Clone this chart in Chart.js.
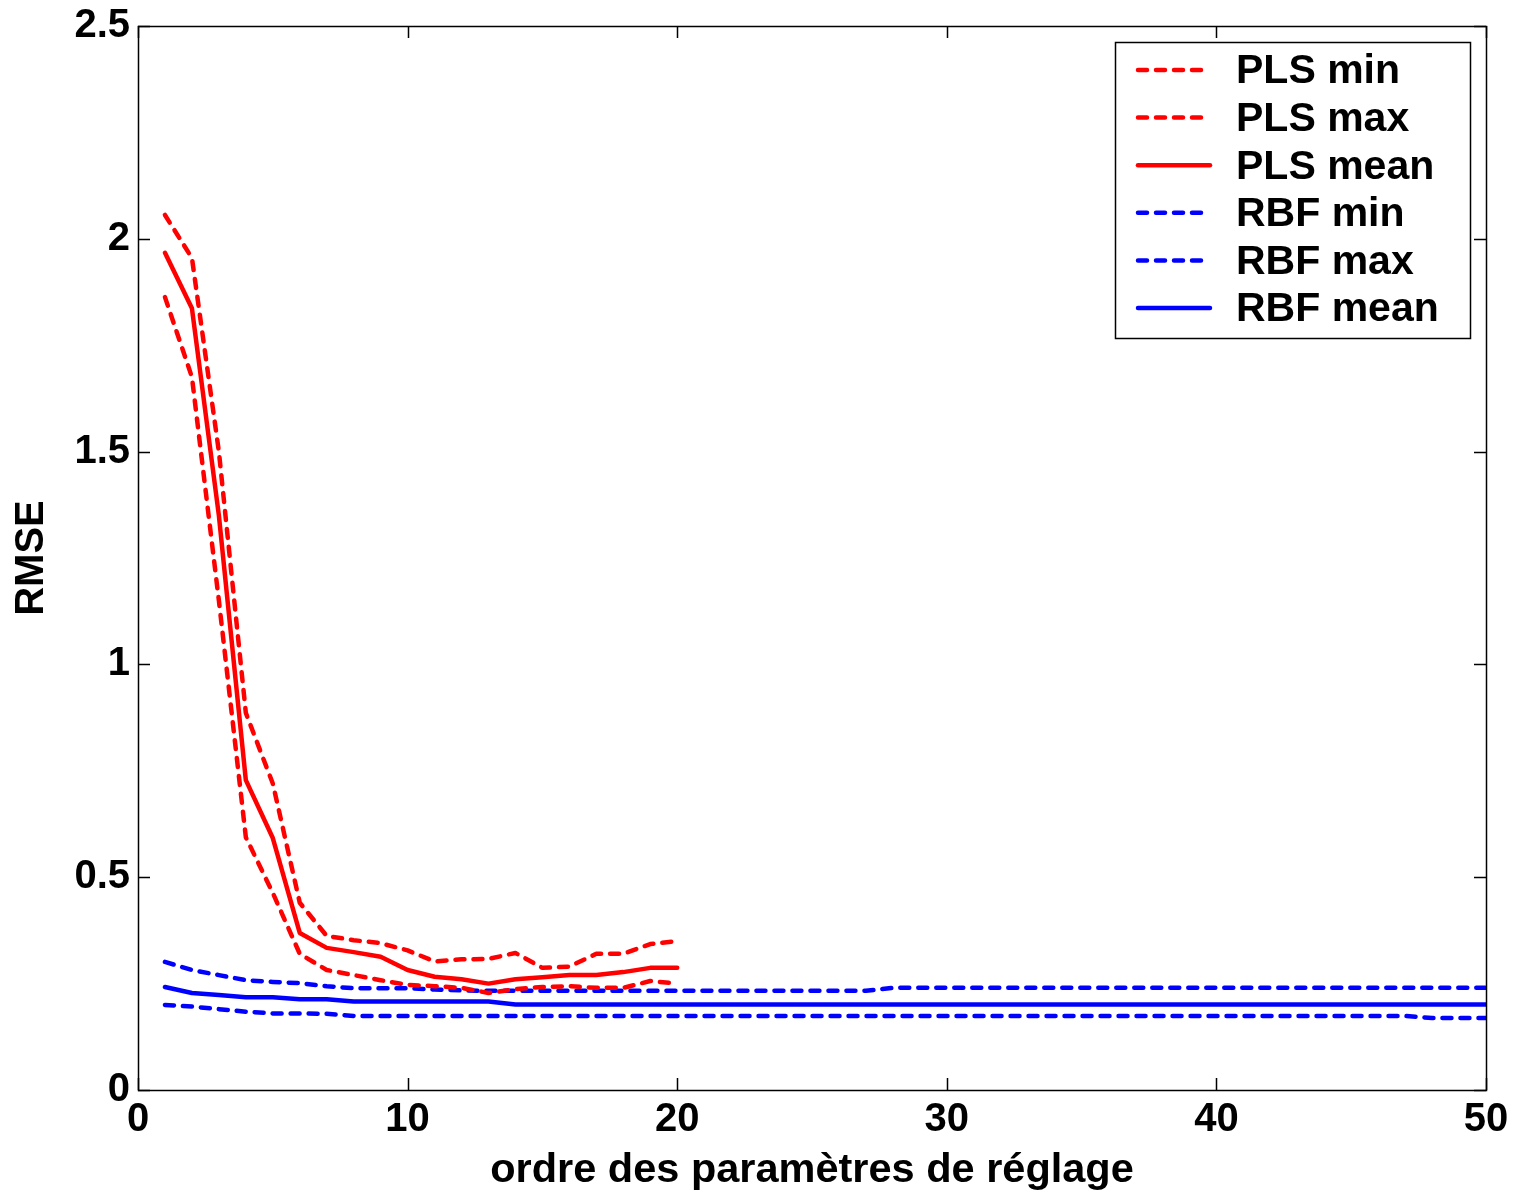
<!DOCTYPE html>
<html>
<head>
<meta charset="utf-8">
<script src="https://cdn.jsdelivr.net/npm/chart.js@4/dist/chart.umd.min.js"></script>
<style>
  html, body { margin: 0; padding: 0; background: #fff; }
  canvas { display: block; }
</style>
</head>
<body>
<canvas id="c" width="1521" height="1195"></canvas>
<script>
Chart.defaults.animation = false;
Chart.defaults.font.family = "'Liberation Sans', Arial, sans-serif";
Chart.defaults.font.weight = "bold";
Chart.defaults.color = "#000";

// x tick values and y tick labels
const xTicks = [0, 10, 20, 30, 40, 50];
const yTicks = ["0", "0.5", "1", "1.5", "2", "2.5"];

// ordre des paramètres
const plsOrder = [1, 2, 3, 4, 5, 6, 7, 8, 9, 10, 11, 12, 13, 14, 15, 16, 17, 18, 19, 20];
const rbfOrder = [1, 2, 3, 4, 5, 6, 7, 8, 9, 10, 11, 12, 13, 14, 15, 16, 17, 18, 19, 20,
  21, 22, 23, 24, 25, 26, 27, 28, 29, 30, 31, 32, 33, 34, 35, 36, 37, 38, 39, 40,
  41, 42, 43, 44, 45, 46, 47, 48, 49, 50];

// RMSE
const plsMin = [1.863, 1.675, 1.15, 0.594, 0.463, 0.32, 0.282, 0.27, 0.258, 0.247,
  0.244, 0.24, 0.228, 0.237, 0.242, 0.244, 0.24, 0.24, 0.256, 0.25];
const plsMax = [2.056, 1.955, 1.5, 0.886, 0.72, 0.44, 0.362, 0.352, 0.345, 0.328,
  0.302, 0.307, 0.308, 0.322, 0.287, 0.29, 0.32, 0.32, 0.343, 0.35];
const plsMean = [1.967, 1.837, 1.35, 0.728, 0.592, 0.369, 0.334, 0.324, 0.313, 0.282,
  0.266, 0.26, 0.25, 0.26, 0.265, 0.27, 0.27, 0.277, 0.287, 0.287];

const rbfMin = [0.2, 0.196, 0.19, 0.184, 0.18, 0.18, 0.179, 0.174, 0.174, 0.174,
  0.174, 0.174, 0.174, 0.174, 0.174, 0.174, 0.174, 0.174, 0.174, 0.174,
  0.174, 0.174, 0.174, 0.174, 0.174, 0.174, 0.174, 0.174, 0.174, 0.174,
  0.174, 0.174, 0.174, 0.174, 0.174, 0.174, 0.174, 0.174, 0.174, 0.174,
  0.174, 0.174, 0.174, 0.174, 0.174, 0.174, 0.174, 0.169, 0.169, 0.169];
const rbfMax = [0.301, 0.282, 0.27, 0.258, 0.254, 0.251, 0.244, 0.239, 0.239, 0.239,
  0.236, 0.234, 0.233, 0.233, 0.233, 0.233, 0.233, 0.233, 0.233, 0.233,
  0.233, 0.233, 0.233, 0.233, 0.233, 0.233, 0.233, 0.24, 0.24, 0.24,
  0.24, 0.24, 0.24, 0.24, 0.24, 0.24, 0.24, 0.24, 0.24, 0.24,
  0.24, 0.24, 0.24, 0.24, 0.24, 0.24, 0.24, 0.24, 0.24, 0.24];
const rbfMean = [0.242, 0.228, 0.223, 0.218, 0.218, 0.213, 0.213, 0.208, 0.208, 0.208,
  0.208, 0.208, 0.208, 0.201, 0.201, 0.201, 0.201, 0.201, 0.201, 0.201,
  0.201, 0.201, 0.201, 0.201, 0.201, 0.201, 0.201, 0.201, 0.201, 0.201,
  0.201, 0.201, 0.201, 0.201, 0.201, 0.201, 0.201, 0.201, 0.201, 0.201,
  0.201, 0.201, 0.201, 0.201, 0.201, 0.201, 0.201, 0.201, 0.201, 0.201];

const RED = "#ff0000", BLUE = "#0000ff";
const DASH = [9, 9];
const pts = (xs, ys) => xs.map((x, i) => ({ x, y: ys[i] }));

function series(label, xs, ys, color, dashed) {
  return {
    label,
    data: pts(xs, ys),
    borderColor: color,
    borderWidth: 4.5,
    borderDash: dashed ? DASH : [],
    borderCapStyle: "round",
    borderJoinStyle: "round",
    pointRadius: 0,
    tension: 0,
    fill: false,
  };
}

// MATLAB-style box with inward ticks on all four sides
const frame = {
  id: "frame",
  afterDatasetsDraw(chart) {
    const { ctx, chartArea: a, scales: { x, y } } = chart;
    const tl = 12;
    ctx.save();
    ctx.strokeStyle = "#000";
    ctx.lineWidth = 1.5;
    ctx.beginPath();
    xTicks.forEach((v) => {
      const px = Math.round(x.getPixelForValue(v)) + 0.5;
      ctx.moveTo(px, a.bottom); ctx.lineTo(px, a.bottom - tl);
      ctx.moveTo(px, a.top); ctx.lineTo(px, a.top + tl);
    });
    yTicks.forEach((t) => {
      const py = Math.round(y.getPixelForValue(Number(t))) + 0.5;
      ctx.moveTo(a.left, py); ctx.lineTo(a.left + tl, py);
      ctx.moveTo(a.right, py); ctx.lineTo(a.right - tl, py);
    });
    ctx.stroke();
    ctx.strokeRect(Math.round(a.left) + 0.5, Math.round(a.top) + 0.5,
      Math.round(a.right - a.left), Math.round(a.bottom - a.top));
    ctx.restore();
  },
};

// legend box in the upper right corner
const legendBox = {
  id: "legendBox",
  afterDraw(chart) {
    const { ctx } = chart;
    const bx = 1115, by = 42, bw = 355, bh = 296;
    const row0 = 70, rowStep = 47.6;
    ctx.save();
    ctx.fillStyle = "#fff";
    ctx.fillRect(bx, by, bw, bh);
    ctx.strokeStyle = "#000";
    ctx.lineWidth = 1.5;
    ctx.strokeRect(bx + 0.5, by + 0.5, bw, bh);
    ctx.font = "bold 41px 'Liberation Sans', Arial, sans-serif";
    ctx.textBaseline = "middle";
    ctx.textAlign = "left";
    chart.data.datasets.forEach((ds, i) => {
      const cy = row0 + i * rowStep;
      ctx.strokeStyle = ds.borderColor;
      ctx.lineWidth = ds.borderWidth;
      ctx.lineCap = "round";
      ctx.setLineDash(ds.borderDash);
      ctx.beginPath();
      ctx.moveTo(1138, cy);
      ctx.lineTo(1210, cy);
      ctx.stroke();
      ctx.setLineDash([]);
      ctx.fillStyle = "#000";
      ctx.fillText(ds.label, 1236, cy + 2);
    });
    ctx.restore();
  },
};

new Chart(document.getElementById("c").getContext("2d"), {
  type: "line",
  data: {
    datasets: [
      series("PLS min", plsOrder, plsMin, RED, true),
      series("PLS max", plsOrder, plsMax, RED, true),
      series("PLS mean", plsOrder, plsMean, RED, false),
      series("RBF min", rbfOrder, rbfMin, BLUE, true),
      series("RBF max", rbfOrder, rbfMax, BLUE, true),
      series("RBF mean", rbfOrder, rbfMean, BLUE, false),
    ],
  },
  options: {
    responsive: false,
    devicePixelRatio: 1,
    layout: { padding: { left: 0, top: 26, right: 35, bottom: 0 } },
    plugins: { legend: { display: false }, tooltip: { enabled: false } },
    scales: {
      x: {
        type: "linear",
        min: 0,
        max: 50,
        afterBuildTicks: (s) => { s.ticks = xTicks.map((v) => ({ value: v })); },
        afterFit: (s) => { s.height = 105; },
        ticks: { font: { size: 40, weight: "bold" }, color: "#000", padding: 6, maxRotation: 0, autoSkip: false },
        grid: { display: false, drawTicks: false },
        border: { display: false },
        title: {
          display: true,
          text: "ordre des paramètres de réglage",
          font: { size: 41.5, weight: "bold" },
          color: "#000",
          padding: { top: 0, bottom: 0 },
        },
      },
      y: {
        type: "linear",
        min: 0,
        max: 2.5,
        afterBuildTicks: (s) => { s.ticks = yTicks.map((t) => ({ value: Number(t) })); },
        afterFit: (s) => { s.width = 138; s.paddingTop = 0; s.paddingBottom = 0; },
        ticks: {
          font: { size: 40, weight: "bold" },
          color: "#000",
          padding: 8,
          autoSkip: false,
          callback: (v, i) => yTicks[i],
        },
        grid: { display: false, drawTicks: false },
        border: { display: false },
        title: {
          display: true,
          text: "RMSE",
          font: { size: 40, weight: "bold" },
          color: "#000",
          padding: { top: 8, bottom: 0 },
        },
      },
    },
  },
  plugins: [frame, legendBox],
});
</script>
</body>
</html>
